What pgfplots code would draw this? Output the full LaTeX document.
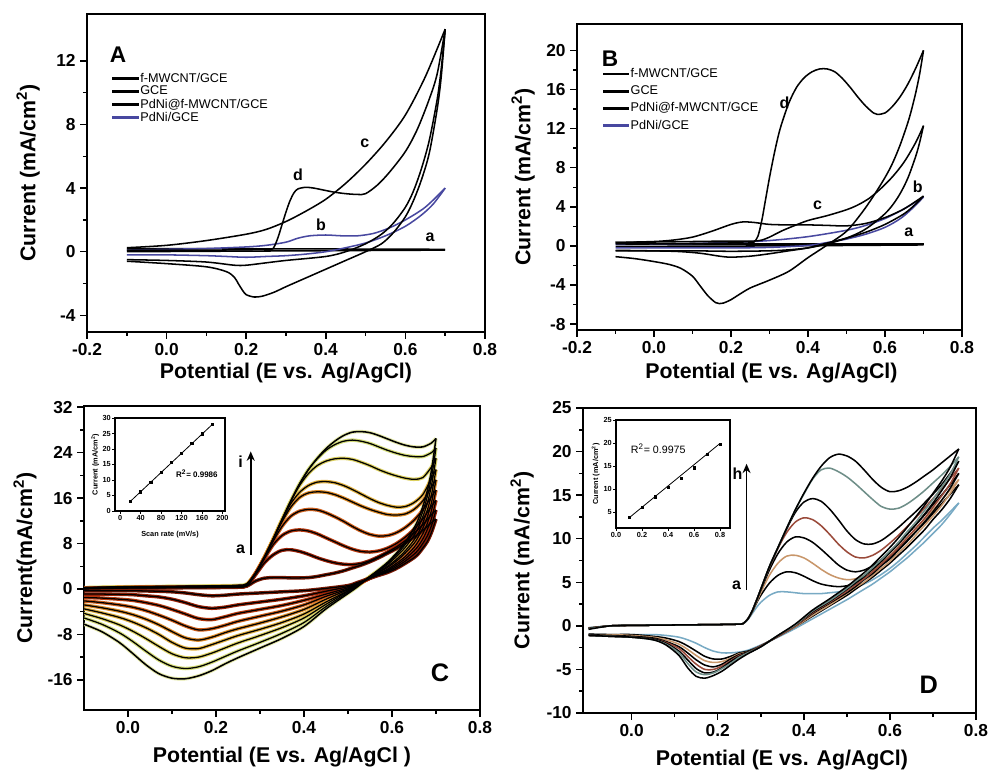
\documentclass[border=0pt]{standalone}
\usepackage{fontspec}
\setmainfont{Liberation Sans}
\usepackage{pgfplots}
\pgfplotsset{compat=1.18}
\usepackage{pgfplotstable}
\usetikzlibrary{arrows.meta}
\definecolor{pdblue}{HTML}{4848A0}
\definecolor{Ca}{HTML}{7A1A05}
\definecolor{Cb}{HTML}{9A2208}
\definecolor{Cc}{HTML}{B83A10}
\definecolor{Cd}{HTML}{D0601C}
\definecolor{Ce}{HTML}{DC8A28}
\definecolor{Cf}{HTML}{E0B040}
\definecolor{Cg}{HTML}{DCD060}
\definecolor{Ch}{HTML}{D4DC78}
\definecolor{Ci}{HTML}{E4E8A8}
\definecolor{Da}{HTML}{78AAC4}
\definecolor{Dc}{HTML}{C8966A}
\definecolor{De}{HTML}{9A4A3A}
\definecolor{Dg}{HTML}{6E8E88}

\pgfplotstableread{
x a b c d e f g h i
-0.10 0.0 0.05 0.1 0.1 0.15 0.15 0.2 0.2 0.25
0.00 0.15 0.2 0.25 0.25 0.3 0.3 0.35 0.35 0.4
0.10 0.2 0.25 0.3 0.3 0.35 0.35 0.4 0.45 0.45
0.20 0.25 0.3 0.35 0.35 0.4 0.45 0.5 0.5 0.55
0.25 0.3 0.35 0.4 0.4 0.45 0.5 0.55 0.6 0.65
0.27 0.5 0.55 0.6 0.65 0.7 0.75 0.8 0.85 0.9
0.29 1.4 2.5 2.7 2.8 2.8 2.8 2.8 2.8 2.8
0.31 1.9 4.6 5.3 5.5 5.6 5.6 5.6 5.6 5.6
0.33 2.0 6.0 7.8 8.4 8.7 8.8 8.8 8.8 8.8
0.35 2.0 6.8 9.4 11.0 11.8 12.1 12.2 12.2 12.2
0.37 1.95 6.9 10.2 12.8 14.4 15.0 15.4 15.5 15.5
0.39 1.95 6.6 10.4 13.7 16.1 17.0 18.2 18.5 18.5
0.41 2.0 6.1 10.2 14.0 16.9 18.2 20.3 21.0 21.0
0.43 2.2 5.5 9.7 13.9 17.1 18.8 21.7 22.9 23.0
0.45 2.5 5.0 9.0 13.4 17.0 18.9 22.5 24.4 24.7
0.47 2.8 4.6 8.3 12.7 16.6 18.7 22.9 25.4 26.0
0.49 3.2 4.35 7.6 11.9 16.0 18.2 23.0 26.0 27.0
0.51 3.7 4.3 7.0 11.0 15.3 17.5 22.8 26.2 27.6
0.53 4.2 4.5 6.6 10.2 14.6 16.7 22.3 26.0 27.7
0.55 4.8 5.0 6.5 9.6 14.0 15.9 21.7 25.6 27.5
0.57 5.5 5.7 6.7 9.3 13.5 15.2 21.0 25.0 27.0
0.59 6.3 6.5 7.2 9.4 13.1 14.7 20.4 24.4 26.4
0.61 7.1 7.4 8.0 9.9 13.0 14.4 19.9 23.9 25.8
0.63 8.1 8.5 9.1 10.8 13.2 14.5 19.5 23.5 25.3
0.65 9.1 9.8 10.5 12.1 14.0 15.2 19.3 23.3 25.0
0.67 10.3 11.3 12.3 13.9 15.5 16.6 19.6 23.3 25.0
0.69 11.7 13.1 14.6 16.3 18.0 19.5 21.5 24.0 25.7
0.70 12.3 13.9 15.6 17.4 19.2 21.0 23.0 24.8 26.5
}\Cfwd

\pgfplotstableread{
x a b c d e f g h i
0.70 12.3 13.9 15.6 17.4 19.2 21.0 23.0 24.8 26.5
0.69 10.0 11.2 12.5 13.9 15.3 16.7 18.3 19.7 21.0
0.68 8.3 9.3 10.4 11.5 12.6 13.8 15.0 16.2 17.2
0.67 7.2 8.0 8.8 9.7 10.7 11.6 12.7 13.6 14.5
0.66 6.2 6.9 7.6 8.4 9.2 9.9 10.8 11.6 12.3
0.65 5.5 6.1 6.7 7.3 8.0 8.6 9.4 10.1 10.7
0.63 4.5 4.9 5.3 5.7 6.3 6.7 7.3 7.8 8.2
0.61 3.6 3.9 4.2 4.5 4.9 5.2 5.7 6.0 6.3
0.59 2.9 3.1 3.3 3.5 3.8 4.0 4.3 4.5 4.7
0.57 2.4 2.5 2.6 2.7 2.9 3.0 3.2 3.3 3.4
0.55 1.9 1.9 1.9 1.9 2.0 2.0 2.2 2.2 2.2
0.52 1.1 0.9 0.8 0.7 0.7 0.6 0.5 0.4 0.3
0.50 0.6 0.4 0.2 0.0 -0.1 -0.3 -0.4 -0.6 -0.8
0.45 0.1 -0.4 -0.9 -1.3 -1.8 -2.3 -2.7 -3.1 -3.5
0.40 -0.3 -1.2 -2.0 -2.8 -3.6 -4.4 -5.1 -5.9 -6.6
0.35 -0.5 -1.8 -2.9 -3.9 -4.9 -5.9 -6.8 -7.8 -8.7
0.30 -0.7 -2.3 -3.6 -4.8 -6.0 -7.1 -8.2 -9.4 -10.4
0.25 -0.9 -2.8 -4.3 -5.7 -7.0 -8.2 -9.5 -10.9 -12.1
0.22 -1.1 -3.2 -4.9 -6.4 -7.7 -9.0 -10.4 -11.9 -13.2
0.19 -1.2 -3.4 -5.4 -7.0 -8.5 -9.8 -11.3 -12.9 -14.4
0.16 -1.0 -3.1 -5.2 -7.2 -9.0 -10.5 -12.0 -13.7 -15.3
0.13 -0.7 -2.4 -4.4 -6.5 -8.6 -10.4 -12.1 -14.0 -15.8
0.10 -0.5 -1.8 -3.6 -5.5 -7.5 -9.4 -11.4 -13.6 -15.7
0.07 -0.4 -1.4 -2.9 -4.6 -6.3 -8.0 -10.1 -12.5 -14.9
0.04 -0.35 -1.2 -2.4 -3.8 -5.3 -6.8 -8.7 -10.9 -13.3
0.01 -0.3 -1.0 -2.0 -3.2 -4.5 -5.8 -7.4 -9.2 -11.3
-0.02 -0.3 -0.95 -1.8 -2.8 -3.9 -5.0 -6.3 -7.7 -9.4
-0.06 -0.3 -0.9 -1.6 -2.4 -3.3 -4.2 -5.2 -6.2 -7.5
-0.10 -0.3 -0.9 -1.5 -2.1 -2.8 -3.5 -4.3 -5.1 -6.2
}\Crev

\pgfplotstableread{
x a b c d e f g h
-0.10 -0.2 -0.25 -0.25 -0.3 -0.3 -0.3 -0.35 -0.4
-0.05 0.0 0.0 0.0 0.0 0.0 0.0 0.0 0.0
0.00 0.05 0.05 0.05 0.05 0.05 0.05 0.05 0.05
0.10 0.1 0.1 0.1 0.1 0.1 0.1 0.1 0.1
0.20 0.15 0.15 0.15 0.15 0.15 0.15 0.15 0.15
0.25 0.2 0.2 0.2 0.2 0.2 0.2 0.2 0.2
0.26 0.3 0.3 0.3 0.3 0.3 0.3 0.3 0.3
0.27 0.7 0.8 0.8 0.8 0.8 0.8 0.8 0.8
0.28 1.4 1.6 1.6 1.7 1.7 1.7 1.7 1.7
0.29 2.1 2.6 2.7 2.9 2.9 2.9 2.9 2.9
0.30 2.7 3.5 3.8 4.1 4.2 4.2 4.2 4.2
0.32 3.5 4.9 5.8 6.4 6.7 6.8 6.8 6.8
0.34 3.9 5.8 7.2 8.3 8.9 9.0 9.0 9.0
0.36 3.9 6.2 8.0 9.6 10.7 11.1 11.2 11.2
0.38 3.8 6.1 8.1 10.2 11.9 13.0 13.3 13.3
0.40 3.7 5.7 7.8 10.1 12.4 14.2 15.1 15.2
0.42 3.7 5.2 7.2 9.6 12.2 14.6 16.8 16.9
0.44 3.7 4.8 6.5 8.8 11.5 14.3 17.9 18.3
0.46 3.8 4.6 5.9 7.9 10.5 13.4 18.1 19.3
0.48 3.9 4.5 5.5 7.0 9.4 12.2 17.7 19.7
0.50 4.1 4.6 5.3 6.4 8.5 10.9 17.1 19.5
0.52 4.4 5.0 5.4 6.2 7.9 9.9 16.3 18.9
0.54 4.8 5.5 5.8 6.4 7.8 9.4 15.4 17.9
0.56 5.3 6.2 6.4 6.9 8.1 9.4 14.5 16.8
0.58 5.9 7.0 7.2 7.6 8.7 9.8 13.7 15.9
0.60 6.6 7.9 8.1 8.5 9.5 10.5 13.4 15.4
0.62 7.4 8.8 9.1 9.5 10.4 11.3 13.5 15.5
0.64 8.3 9.8 10.1 10.5 11.4 12.2 14.0 15.9
0.66 9.2 10.8 11.1 11.6 12.4 13.1 14.7 16.5
0.68 10.2 11.8 12.2 12.7 13.5 14.1 15.5 17.2
0.70 11.2 12.9 13.3 13.9 14.6 15.1 16.4 17.9
0.72 12.1 14.0 14.4 15.0 15.7 16.2 17.3 18.7
0.74 13.1 15.1 15.6 16.2 16.9 17.5 18.3 19.5
0.76 14.1 16.2 16.8 17.5 18.1 18.9 19.4 20.3
}\Dfwd

\pgfplotstableread{
x a b c d e f g h
0.76 14.1 16.2 16.8 17.5 18.1 18.9 19.4 20.3
0.74 12.8 14.6 15.2 15.8 16.3 17.0 17.4 18.2
0.72 11.6 13.3 13.8 14.4 14.9 15.5 15.9 16.6
0.70 10.6 12.2 12.6 13.1 13.6 14.1 14.5 15.2
0.68 9.6 11.0 11.5 11.9 12.3 12.8 13.2 13.8
0.66 8.7 10.0 10.4 10.8 11.2 11.6 11.9 12.5
0.64 7.8 9.0 9.3 9.7 10.1 10.5 10.8 11.3
0.62 7.0 8.1 8.4 8.7 9.0 9.4 9.6 10.1
0.60 6.2 7.2 7.4 7.7 8.0 8.4 8.6 9.0
0.58 5.5 6.4 6.6 6.9 7.1 7.4 7.6 8.0
0.56 4.8 5.6 5.8 6.0 6.2 6.5 6.7 7.0
0.54 4.2 4.9 5.0 5.3 5.4 5.7 5.8 6.1
0.52 3.6 4.2 4.4 4.5 4.7 4.9 5.1 5.3
0.50 3.0 3.5 3.7 3.8 4.0 4.2 4.3 4.5
0.46 1.9 2.3 2.4 2.6 2.7 2.8 2.9 3.1
0.42 0.8 1.1 1.2 1.4 1.5 1.6 1.7 1.8
0.38 -0.3 -0.1 -0.1 0.0 0.0 0.1 0.1 0.2
0.34 -1.3 -1.2 -1.2 -1.2 -1.2 -1.1 -1.1 -1.1
0.30 -2.2 -2.3 -2.3 -2.3 -2.3 -2.4 -2.4 -2.4
0.27 -2.8 -2.9 -3.0 -3.0 -3.1 -3.1 -3.1 -3.2
0.25 -3.0 -3.1 -3.2 -3.3 -3.4 -3.5 -3.6 -3.8
0.23 -3.1 -3.5 -3.7 -3.8 -4.0 -4.1 -4.3 -4.5
0.21 -3.1 -3.8 -4.1 -4.4 -4.6 -4.8 -4.9 -5.2
0.19 -2.9 -3.8 -4.2 -4.7 -5.0 -5.3 -5.4 -5.7
0.17 -2.5 -3.5 -4.0 -4.5 -5.0 -5.4 -5.6 -6.0
0.15 -2.0 -2.9 -3.4 -3.9 -4.4 -4.9 -5.3 -5.8
0.13 -1.6 -2.3 -2.7 -3.1 -3.5 -3.9 -4.3 -4.8
0.11 -1.3 -1.8 -2.1 -2.4 -2.6 -2.9 -3.1 -3.4
0.08 -1.1 -1.4 -1.6 -1.8 -1.9 -2.0 -2.1 -2.2
0.05 -1.0 -1.2 -1.3 -1.4 -1.5 -1.5 -1.6 -1.6
0.00 -1.0 -1.0 -1.1 -1.2 -1.3 -1.3 -1.3 -1.3
-0.05 -1.0 -1.0 -1.0 -1.1 -1.2 -1.2 -1.2 -1.2
-0.10 -0.95 -0.95 -1.0 -1.0 -1.1 -1.1 -1.1 -1.1
}\Drev

\tikzset{lbl/.style={font=\fontsize{12}{12}\selectfont\bfseries}}
\pgfplotsset{
  cv/.style={
    scale only axis, anchor=south west,
    axis line style={line width=1.3pt},
    tick style={line width=1.1pt, black},
    tick align=outside, tick pos=left,
    major tick length=5pt, minor tick length=3pt,
    minor tick num=1,
    /pgf/number format/assume math mode=true,
    tick label style={font=\fontsize{13}{13}\selectfont\bfseries},
    label style={font=\fontsize{16}{16}\selectfont\bfseries},
    xticklabel style={/pgf/number format/.cd, fixed, fixed zerofill, precision=1},
    yticklabel style={/pgf/number format/.cd, fixed, precision=0},
    every axis plot/.append style={line width=1.15pt, smooth, no markers},
    legend cell align=left,
    legend image code/.code={\fill[#1, draw=none] (0pt,-1pt) rectangle (20pt,1pt);},
  },
  inset/.style={
    scale only axis, anchor=south west,
    axis line style={line width=0.8pt},
    tick style={line width=0.5pt, black},
    tick align=outside, tick pos=left,
    major tick length=2pt,
    /pgf/number format/assume math mode=true,
    tick label style={font=\fontsize{5.5}{5.5}\selectfont\bfseries, inner sep=1pt},
    label style={font=\fontsize{5.5}{5.5}\selectfont\bfseries, inner sep=1pt},
  },
  cglow/.style={line width=2.6pt},
  cline/.style={black, line width=0.95pt},
}

\begin{document}
\begin{tikzpicture}
\path[use as bounding box] (0pt,0pt) rectangle (741.75pt,581.25pt);

% ---------------- Panel A ----------------
\begin{axis}[cv, at={(65.25pt,332.25pt)}, width=298.5pt, height=238.5pt,
  xmin=-0.2, xmax=0.8, ymin=-5.05, ymax=14.95,
  xtick={-0.2,0,0.2,0.4,0.6,0.8}, ytick={-4,0,4,8,12},
  xlabel={Potential (E vs. Ag/AgCl)}, ylabel={Current (mA/cm\textsuperscript{2})},
  xlabel style={at={(axis description cs:0.5,-0.13)}, anchor=center},
  ylabel style={at={(axis description cs:-0.148,0.5)}, anchor=center},
  legend style={at={(axis description cs:0.063,0.82)}, anchor=north west, draw=none, fill=none,
    font=\fontsize{9.5}{9.5}\selectfont, inner sep=0pt, row sep=-0.5pt, nodes={inner sep=1pt}}]
\addlegendimage{black}\addlegendentry{f-MWCNT/GCE}
\addlegendimage{black}\addlegendentry{GCE}
\addlegendimage{black}\addlegendentry{PdNi@f-MWCNT/GCE}
\addlegendimage{pdblue}\addlegendentry{PdNi/GCE}
% a : GCE
\addplot[black, forget plot] coordinates {(-0.1,0.2) (0.3,0.18) (0.7,0.15)};
\addplot[black, forget plot] coordinates {(0.7,0.1) (0.3,0.05) (-0.1,0.0)};
% b : PdNi/GCE
\addplot[pdblue, forget plot] coordinates {(-0.1,0.1) (0.0,0.15) (0.1,0.2) (0.2,0.3) (0.25,0.4) (0.3,0.6) (0.33,0.85) (0.36,1.0) (0.4,1.05) (0.44,1.0) (0.48,1.0) (0.52,1.15) (0.56,1.5) (0.6,2.0) (0.65,2.8) (0.7,4.0)};
\addplot[pdblue, forget plot] coordinates {(0.7,4.0) (0.67,3.0) (0.64,2.3) (0.6,1.6) (0.55,1.0) (0.5,0.55) (0.45,0.25) (0.4,0.0) (0.35,-0.15) (0.3,-0.25) (0.25,-0.3) (0.2,-0.35) (0.15,-0.3) (0.1,-0.25) (0.0,-0.2) (-0.1,-0.2)};
% c : f-MWCNT/GCE
\addplot[black, forget plot] coordinates {(-0.1,0.25) (0.0,0.4) (0.1,0.7) (0.2,1.1) (0.25,1.4) (0.3,1.9) (0.35,2.55) (0.4,3.3) (0.45,4.3) (0.5,5.5) (0.55,6.9) (0.6,8.6) (0.65,11.0) (0.7,14.0)};
\addplot[black, forget plot] coordinates {(0.7,14.0) (0.69,11.5) (0.68,9.6) (0.66,7.0) (0.64,5.2) (0.62,3.8) (0.6,2.8) (0.57,1.8) (0.54,1.1) (0.5,0.5) (0.45,0.0) (0.4,-0.3) (0.3,-0.55) (0.25,-0.7) (0.2,-0.85) (0.17,-0.85) (0.1,-0.65) (0.0,-0.55) (-0.1,-0.5)};
% d : PdNi@f-MWCNT/GCE
\addplot[black, forget plot] coordinates {(-0.1,0.1) (0.0,0.1) (0.1,0.1) (0.2,0.12) (0.26,0.15) (0.27,0.3) (0.28,0.9) (0.29,1.7) (0.3,2.5) (0.31,3.2) (0.32,3.7) (0.33,3.95) (0.35,4.05) (0.37,4.0) (0.39,3.9) (0.42,3.75) (0.45,3.65) (0.48,3.6) (0.5,3.65) (0.53,4.2) (0.56,5.0) (0.6,6.3) (0.63,7.7) (0.66,9.6) (0.68,11.2) (0.7,14.0)};
\addplot[black, forget plot] coordinates {(0.7,14.0) (0.69,11.0) (0.68,9.0) (0.66,6.2) (0.64,4.5) (0.62,3.2) (0.6,2.2) (0.57,1.2) (0.54,0.5) (0.5,0.0) (0.45,-0.55) (0.4,-1.1) (0.35,-1.65) (0.3,-2.2) (0.27,-2.55) (0.24,-2.8) (0.22,-2.85) (0.2,-2.7) (0.19,-2.4) (0.18,-2.0) (0.17,-1.6) (0.15,-1.25) (0.1,-0.95) (0.0,-0.75) (-0.1,-0.6)};
\node[font=\fontsize{17}{17}\selectfont\bfseries] at (axis cs:-0.122,12.4) {A};
\node[lbl] at (axis cs:0.33,4.85) {d};
\node[lbl] at (axis cs:0.498,6.8) {c};
\node[lbl] at (axis cs:0.388,1.7) {b};
\node[lbl] at (axis cs:0.662,0.9) {a};
\end{axis}

% ---------------- Panel B ----------------
\begin{axis}[cv, at={(432.75pt,333.75pt)}, width=288.75pt, height=229.5pt,
  xmin=-0.2, xmax=0.8, ymin=-8.6, ymax=22.7,
  xtick={-0.2,0,0.2,0.4,0.6,0.8}, ytick={-8,-4,0,4,8,12,16,20},
  xlabel={Potential (E vs. Ag/AgCl)}, ylabel={Current (mA/cm\textsuperscript{2})},
  xlabel style={at={(axis description cs:0.505,-0.14)}, anchor=center},
  ylabel style={at={(axis description cs:-0.14,0.5)}, anchor=center},
  legend style={at={(axis description cs:0.066,0.86)}, anchor=north west, draw=none, fill=none,
    font=\fontsize{9.5}{9.5}\selectfont, inner sep=0pt, row sep=2.6pt, nodes={inner sep=1pt}}]
\addlegendimage{black}\addlegendentry{f-MWCNT/GCE}
\addlegendimage{black}\addlegendentry{GCE}
\addlegendimage{black}\addlegendentry{PdNi@f-MWCNT/GCE}
\addlegendimage{pdblue}\addlegendentry{PdNi/GCE}
% a
\addplot[black, forget plot] coordinates {(-0.1,0.2) (0.3,0.2) (0.7,0.2)};
\addplot[black, forget plot] coordinates {(0.7,0.1) (0.3,0.0) (-0.1,-0.05)};
% b (blue)
\addplot[pdblue, forget plot] coordinates {(-0.1,0.15) (0.0,0.2) (0.1,0.25) (0.2,0.35) (0.3,0.55) (0.4,0.95) (0.5,1.6) (0.55,2.1) (0.6,2.8) (0.65,3.8) (0.7,5.0)};
\addplot[pdblue, forget plot] coordinates {(0.7,5.0) (0.67,3.8) (0.64,2.8) (0.6,1.9) (0.55,1.2) (0.5,0.7) (0.45,0.35) (0.4,0.05) (0.3,-0.15) (0.2,-0.2) (0.1,-0.2) (-0.1,-0.2)};
% hump curve
\addplot[black, forget plot] coordinates {(-0.1,0.35) (0.0,0.45) (0.05,0.6) (0.1,0.9) (0.15,1.5) (0.2,2.2) (0.23,2.45) (0.26,2.4) (0.3,2.2) (0.35,2.15) (0.4,2.15) (0.45,2.1) (0.5,2.05) (0.55,2.3) (0.6,2.9) (0.65,3.8) (0.7,5.1)};
\addplot[black, forget plot] coordinates {(0.7,5.1) (0.68,4.3) (0.65,3.3) (0.6,2.2) (0.55,1.4) (0.5,0.8) (0.45,0.3) (0.4,-0.2) (0.35,-0.5) (0.3,-0.8) (0.25,-1.05) (0.2,-1.15) (0.17,-1.05) (0.12,-0.75) (0.05,-0.55) (-0.1,-0.45)};
% c
\addplot[black, forget plot] coordinates {(-0.1,0.35) (0.0,0.4) (0.1,0.45) (0.2,0.5) (0.26,0.5) (0.28,0.6) (0.3,0.9) (0.33,1.5) (0.36,2.0) (0.4,2.6) (0.45,3.1) (0.5,3.7) (0.53,4.2) (0.56,4.9) (0.59,5.9) (0.62,7.1) (0.65,8.6) (0.68,10.6) (0.7,12.3)};
\addplot[black, forget plot] coordinates {(0.7,12.3) (0.69,10.6) (0.68,9.2) (0.66,7.0) (0.64,5.4) (0.62,4.2) (0.6,3.3) (0.57,2.3) (0.54,1.5) (0.5,0.8) (0.45,0.2) (0.4,-0.2) (0.35,-0.4) (0.3,-0.5) (0.2,-0.55) (0.1,-0.5) (0.0,-0.5) (-0.1,-0.5)};
% d
\addplot[black, forget plot] coordinates {(-0.1,0.2) (0.0,0.2) (0.1,0.25) (0.2,0.3) (0.25,0.3) (0.26,0.4) (0.27,1.0) (0.28,2.6) (0.29,4.8) (0.3,7.0) (0.31,9.0) (0.32,10.8) (0.33,12.3) (0.35,14.6) (0.37,16.2) (0.39,17.2) (0.41,17.8) (0.43,18.1) (0.45,18.1) (0.47,17.8) (0.49,17.1) (0.51,16.2) (0.53,15.2) (0.55,14.3) (0.57,13.6) (0.58,13.45) (0.6,13.6) (0.62,14.3) (0.64,15.3) (0.66,16.6) (0.68,18.2) (0.7,20.0)};
\addplot[black, forget plot] coordinates {(0.7,20.0) (0.69,17.6) (0.68,15.7) (0.67,14.1) (0.66,12.7) (0.64,10.4) (0.62,8.5) (0.6,7.0) (0.57,5.1) (0.54,3.4) (0.5,1.5) (0.45,0.1) (0.4,-1.2) (0.35,-2.6) (0.3,-3.5) (0.25,-4.3) (0.22,-5.0) (0.2,-5.5) (0.18,-5.85) (0.17,-5.9) (0.16,-5.8) (0.14,-5.1) (0.12,-4.1) (0.1,-3.1) (0.07,-2.3) (0.04,-1.9) (0.0,-1.6) (-0.05,-1.3) (-0.1,-1.1)};
\node[font=\fontsize{17}{17}\selectfont\bfseries] at (axis cs:-0.114,19.2) {B};
\node[lbl] at (axis cs:0.339,14.6) {d};
\node[lbl] at (axis cs:0.425,4.2) {c};
\node[lbl] at (axis cs:0.685,6.1) {b};
\node[lbl] at (axis cs:0.662,1.4) {a};
\end{axis}

% ---------------- Panel C ----------------
\begin{axis}[cv, at={(63pt,48.75pt)}, width=297pt, height=228pt,
  xmin=-0.1, xmax=0.8, ymin=-21.3, ymax=32.2,
  xtick={0,0.2,0.4,0.6,0.8}, ytick={-16,-8,0,8,16,24,32},
  xlabel={Potential (E vs. Ag/AgCl )}, ylabel={Current(mA/cm\textsuperscript{2})},
  xlabel style={at={(axis description cs:0.5,-0.155)}, anchor=center},
  ylabel style={at={(axis description cs:-0.149,0.5)}, anchor=center}]
% coloured halo of each scan
\addplot[cglow, Ci] table[x=x,y=i]{\Cfwd};
\addplot[cglow, Ci] table[x=x,y=i]{\Crev};
\addplot[cglow, Ch] table[x=x,y=h]{\Cfwd};
\addplot[cglow, Ch] table[x=x,y=h]{\Crev};
\addplot[cglow, Cg] table[x=x,y=g]{\Cfwd};
\addplot[cglow, Cg] table[x=x,y=g]{\Crev};
\addplot[cglow, Cf] table[x=x,y=f]{\Cfwd};
\addplot[cglow, Cf] table[x=x,y=f]{\Crev};
\addplot[cglow, Ce] table[x=x,y=e]{\Cfwd};
\addplot[cglow, Ce] table[x=x,y=e]{\Crev};
\addplot[cglow, Cd] table[x=x,y=d]{\Cfwd};
\addplot[cglow, Cd] table[x=x,y=d]{\Crev};
\addplot[cglow, Cc] table[x=x,y=c]{\Cfwd};
\addplot[cglow, Cc] table[x=x,y=c]{\Crev};
\addplot[cglow, Cb] table[x=x,y=b]{\Cfwd};
\addplot[cglow, Cb] table[x=x,y=b]{\Crev};
\addplot[cglow, Ca] table[x=x,y=a]{\Cfwd};
\addplot[cglow, Ca] table[x=x,y=a]{\Crev};
% black cores
\addplot[cline] table[x=x,y=a]{\Cfwd};
\addplot[cline] table[x=x,y=a]{\Crev};
\addplot[cline] table[x=x,y=b]{\Cfwd};
\addplot[cline] table[x=x,y=b]{\Crev};
\addplot[cline] table[x=x,y=c]{\Cfwd};
\addplot[cline] table[x=x,y=c]{\Crev};
\addplot[cline] table[x=x,y=d]{\Cfwd};
\addplot[cline] table[x=x,y=d]{\Crev};
\addplot[cline] table[x=x,y=e]{\Cfwd};
\addplot[cline] table[x=x,y=e]{\Crev};
\addplot[cline] table[x=x,y=f]{\Cfwd};
\addplot[cline] table[x=x,y=f]{\Crev};
\addplot[cline] table[x=x,y=g]{\Cfwd};
\addplot[cline] table[x=x,y=g]{\Crev};
\addplot[cline] table[x=x,y=h]{\Cfwd};
\addplot[cline] table[x=x,y=h]{\Crev};
\addplot[cline, line width=1.15pt] table[x=x,y=i]{\Cfwd};
\addplot[cline, line width=1.15pt] table[x=x,y=i]{\Crev};
\draw[line width=1.3pt, -{Stealth[length=7pt,width=6pt]}] (axis cs:0.279,6) -- (axis cs:0.279,24.2);
\node[lbl] at (axis cs:0.256,22.4) {i};
\node[lbl] at (axis cs:0.256,6.9) {a};
\node[font=\fontsize{19}{19}\selectfont\bfseries] at (axis cs:0.709,-14.7) {C};
\end{axis}

% inset C
\begin{axis}[inset, at={(86.25pt,198pt)}, width=82.5pt, height=69.75pt,
  xmin=-10, xmax=205, ymin=0, ymax=30,
  xtick={0,40,80,120,160,200}, ytick={0,5,10,15,20,25,30},
  xlabel={Scan rate (mV/s)}, ylabel={Current (mA/cm\textsuperscript{2})},
  xlabel style={at={(axis description cs:0.5,-0.2)}, anchor=north},
  ylabel style={at={(axis description cs:-0.13,0.5)}, anchor=south}]
\addplot[black, line width=0.6pt] coordinates {(18,2.8) (182,28.2)};
\addplot[black, only marks, mark=square*, mark size=0.8pt] coordinates {(20,3.0) (40,6.2) (60,9.4) (80,12.5) (100,15.6) (120,18.7) (140,21.8) (160,24.9) (180,28.0)};
\node[font=\fontsize{6}{6}\selectfont\bfseries] at (axis cs:150,12) {R\textsuperscript{2}= 0.9986};
\end{axis}

% ---------------- Panel D ----------------
\begin{axis}[cv, at={(437.25pt,46.5pt)}, width=294.75pt, height=228.75pt,
  xmin=-0.113, xmax=0.8, ymin=-10, ymax=25,
  xtick={0,0.2,0.4,0.6,0.8}, ytick={-10,-5,0,5,10,15,20,25},
  xlabel={Potential (E vs. Ag/AgCl)}, ylabel={Current (mA/cm\textsuperscript{2})},
  xlabel style={at={(axis description cs:0.506,-0.154)}, anchor=center},
  ylabel style={at={(axis description cs:-0.155,0.5)}, anchor=center}]
\addplot[Da] table[x=x,y=a]{\Dfwd};
\addplot[Da] table[x=x,y=a]{\Drev};
\addplot[black] table[x=x,y=b]{\Dfwd};
\addplot[black] table[x=x,y=b]{\Drev};
\addplot[Dc] table[x=x,y=c]{\Dfwd};
\addplot[Dc] table[x=x,y=c]{\Drev};
\addplot[black] table[x=x,y=d]{\Dfwd};
\addplot[black] table[x=x,y=d]{\Drev};
\addplot[De] table[x=x,y=e]{\Dfwd};
\addplot[De] table[x=x,y=e]{\Drev};
\addplot[black] table[x=x,y=f]{\Dfwd};
\addplot[black] table[x=x,y=f]{\Drev};
\addplot[Dg] table[x=x,y=g]{\Dfwd};
\addplot[Dg] table[x=x,y=g]{\Drev};
\addplot[black] table[x=x,y=h]{\Dfwd};
\addplot[black] table[x=x,y=h]{\Drev};
\draw[line width=1.3pt, -{Stealth[length=7pt,width=6pt]}] (axis cs:0.267,4.1) -- (axis cs:0.267,18.6);
\node[lbl] at (axis cs:0.246,17.5) {h};
\node[lbl] at (axis cs:0.244,4.7) {a};
\node[font=\fontsize{19}{19}\selectfont\bfseries] at (axis cs:0.69,-6.8) {D};
\end{axis}

% inset D
\begin{axis}[inset, at={(462pt,185.25pt)}, width=85.5pt, height=81pt,
  xmin=0, xmax=0.877, ymin=1.5, ymax=25,
  xtick={0,0.2,0.4,0.6,0.8}, ytick={5,10,15,20,25},
  xticklabel style={/pgf/number format/.cd, fixed, fixed zerofill, precision=1},
  ylabel={Current (mA/cm\textsuperscript{2})},
  ylabel style={at={(axis description cs:-0.13,0.5)}, anchor=south}]
\addplot[black, line width=0.6pt] coordinates {(0.1,3.7) (0.8,19.9)};
\addplot[black, only marks, mark=square*, mark size=0.8pt] coordinates {(0.1,3.9) (0.2,6.1) (0.3,8.3) (0.4,10.3) (0.5,12.4) (0.6,14.6) (0.7,17.6) (0.8,19.8)};
\node[font=\fontsize{8}{8}\selectfont] at (axis cs:0.325,18.7) {R\textsuperscript{2}= 0.9975};
\end{axis}

\end{tikzpicture}
\end{document}
